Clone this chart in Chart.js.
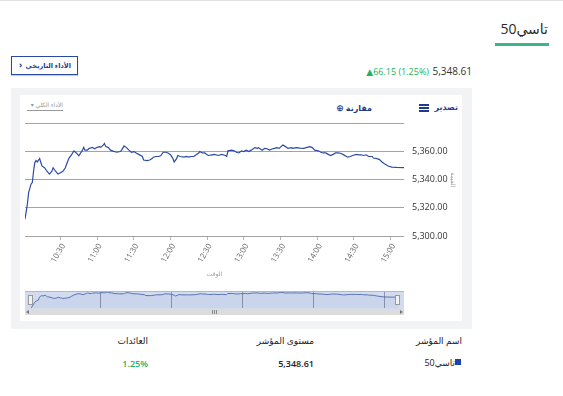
<!DOCTYPE html>
<html lang="ar">
<head>
<meta charset="utf-8">
<script src="https://cdn.jsdelivr.net/npm/chart.js@4.4.1/dist/chart.umd.min.js"></script>
<style>
  body { margin: 0; width: 563px; height: 396px; position: relative; background: #fff; overflow: hidden;
         font-family: "Open Sans", "DejaVu Sans", sans-serif; color: #333; }
  .abs { position: absolute; white-space: nowrap; }
  .rtl { direction: rtl; }
</style>
</head>
<body>
<script>
// minutes after 10:00 and index level
const times = [1, 3, 4, 6, 7, 8, 9, 10, 11, 13, 14, 15, 17, 19, 21, 23, 24, 26, 27, 28,
  30, 32, 34, 35, 37, 39, 41, 43, 45, 48, 49, 50, 52, 53, 56, 58, 60, 62, 63, 65,
  66, 67, 69, 71, 73, 76, 79, 80, 82, 84, 86, 88, 90, 92, 94, 97, 98, 101, 103, 105,
  106, 108, 110, 112, 114, 116, 118, 120, 122, 123, 125, 126, 128, 131, 133, 135, 137, 139, 141, 143,
  144, 146, 148, 150, 151, 154, 156, 159, 162, 165, 166, 167, 170, 172, 174, 176, 178, 180, 182, 184,
  186, 189, 191, 192, 195, 197, 199, 201, 203, 205, 207, 209, 211, 212, 214, 216, 219, 220, 223, 226,
  229, 231, 234, 236, 238, 241, 243, 245, 247, 249, 251, 253, 255, 257, 259, 261, 264, 265, 267, 269,
  272, 274, 276, 278, 280, 282, 285, 286, 289, 291, 293, 295, 298, 301, 305, 311];
const values = [5312, 5323, 5331, 5337, 5338, 5346, 5352, 5353.6, 5352.6, 5355, 5352, 5349.6, 5348.5, 5346, 5344, 5346, 5348.5, 5346, 5345, 5344,
  5345, 5346, 5348.5, 5351, 5355.4, 5357.7, 5360.5, 5359, 5357, 5361, 5363, 5361, 5361, 5362, 5363, 5362, 5363, 5363.5, 5363, 5364.6,
  5365.8, 5363.5, 5363, 5361, 5360.3, 5359.5, 5360, 5361, 5364, 5362.8, 5361, 5359.5, 5360, 5358.9, 5358, 5356.5, 5354, 5353.6, 5354, 5355,
  5356, 5356.5, 5356.5, 5357, 5359.5, 5359.5, 5359, 5357.7, 5355, 5352.6, 5355, 5357.2, 5356.5, 5356, 5356.5, 5356, 5356.5, 5356.5, 5357.7, 5359,
  5360, 5359, 5359, 5357.7, 5357.2, 5357.7, 5358, 5357.2, 5358, 5357.2, 5356.5, 5360.5, 5361, 5360.5, 5359.5, 5359, 5360.5, 5360, 5361, 5360,
  5361, 5362.8, 5362.3, 5362.8, 5361, 5362.3, 5362, 5361, 5361.8, 5362.3, 5362.8, 5362.3, 5364, 5364.6, 5363.5, 5362.3, 5362.8, 5362.3, 5362.8, 5362.5,
  5362.3, 5362.8, 5363.5, 5362.8, 5361, 5360.5, 5359.5, 5359, 5359, 5358, 5357.2, 5358, 5359, 5359, 5358.8, 5358, 5356.5, 5356, 5356.5, 5357.2,
  5358, 5357.7, 5357.7, 5357.2, 5357.7, 5356.5, 5356.5, 5355.4, 5355, 5354.3, 5352.6, 5351.3, 5349.7, 5349, 5348.7, 5348.61];

const xTickLabels = ['10:30', '11:00', '11:30', '12:00', '12:30', '13:00', '13:30', '14:00', '14:30', '15:00'];
const yTickValues = [5300, 5320, 5340, 5360, 5380];
const navTickLabels = ['11:00', '12:00', '13:00', '14:00', '15:00'];

const lastValue = '5,348.61';
const change = '66.15';
const changePct = '1.25%';
</script>

<!-- top strip -->
<div class="abs" style="left:0;top:0;width:563px;height:1px;background:#e2e2e2"></div>

<!-- title -->
<div class="abs rtl" style="right:15px;top:19px;font-size:14px;color:#2a2a2a">تاسي50</div>
<div class="abs" style="left:495px;top:43px;width:54px;height:3px;background:#3db58a"></div>

<!-- history button -->
<div class="abs" style="left:11px;top:56px;width:65px;height:17px;border:1px solid #2a4aa0;box-shadow:0 1px 1px #ccc"></div>
<div class="abs rtl" style="right:492px;top:57px;font-size:6.6px;font-weight:bold;color:#1f3a8c;line-height:17px">الأداء التاريخي</div>
<div class="abs" style="left:19px;top:57px;font-size:9px;font-weight:bold;color:#1f3a8c;line-height:16px">›</div>

<!-- price -->
<div class="abs" id="price" style="right:91px;top:64px;font-size:10px;color:#333"></div>
<div class="abs" id="chg" style="right:134px;top:65px;font-size:9px;color:#22b35c"></div>

<!-- panel -->
<div class="abs" style="left:11px;top:88px;width:461px;height:241px;background:#f2f3f5"></div>
<div class="abs" style="left:20px;top:95px;width:442px;height:226px;background:#fff"></div>

<!-- chart toolbar -->
<div class="abs rtl" style="right:105px;top:101px;font-size:8px;font-weight:bold;color:#1f3a8c">تصدير</div>
<div class="abs" style="left:419px;top:104px;width:10px;height:2px;background:#1f3a8c"></div>
<div class="abs" style="left:419px;top:107px;width:10px;height:2px;background:#1f3a8c"></div>
<div class="abs" style="left:419px;top:110px;width:10px;height:2px;background:#1f3a8c"></div>
<div class="abs rtl" style="right:191px;top:101px;font-size:8px;font-weight:bold;color:#1f3a8c">مقارنة <span style="font-size:9px">⊕</span></div>
<div class="abs rtl" style="left:27px;top:101px;width:36px;font-size:6px;color:#999;border-bottom:1px solid #999;padding-bottom:1px">الأداء الكلي ▾</div>

<!-- main chart -->
<canvas id="main" width="440" height="175" class="abs" style="left:20px;top:110px"></canvas>

<!-- navigator -->
<canvas id="nav" width="379" height="18" class="abs" style="left:25px;top:291px;background:#d3dcef"></canvas>
<div class="abs" style="left:25px;top:291px;width:379px;height:1px;background:#b8b8b8"></div>
<div class="abs" style="left:28px;top:295px;width:3px;height:8px;background:#f2f2f2;border:1px solid #999"></div>
<div class="abs" style="left:395px;top:295px;width:3px;height:8px;background:#f2f2f2;border:1px solid #999"></div>

<!-- scrollbar -->
<div class="abs" style="left:25px;top:309px;width:379px;height:6px;background:#dcdcdc"></div>
<div class="abs" style="left:26px;top:310px;width:0;height:0;border-top:2px solid transparent;border-bottom:2px solid transparent;border-right:3px solid #777"></div>
<div class="abs" style="left:400px;top:310px;width:0;height:0;border-top:2px solid transparent;border-bottom:2px solid transparent;border-left:3px solid #777"></div>
<div class="abs" style="left:212px;top:310px;width:1px;height:4px;background:#888;box-shadow:2px 0 0 #888,4px 0 0 #888"></div>

<!-- table -->
<div class="abs rtl" style="right:101px;top:334px;font-size:9px;color:#222">اسم المؤشر</div>
<div class="abs rtl" style="right:249px;top:334px;font-size:9px;color:#222">مستوى المؤشر</div>
<div class="abs rtl" style="right:415px;top:334px;font-size:9px;color:#222">العائدات</div>
<div class="abs" style="left:455px;top:359px;width:6px;height:6px;background:#1f3fb5"></div>
<div class="abs rtl" style="right:108px;top:356px;font-size:9px;color:#222">تاسي50</div>
<div class="abs" id="rowLevel" style="right:249px;top:357px;font-size:9px;font-weight:600;color:#222"></div>
<div class="abs" id="rowPct" style="right:415px;top:357px;font-size:9px;font-weight:600;color:#22b35c"></div>

<script>
document.getElementById('price').textContent = lastValue;
document.getElementById('chg').textContent = '▲' + change + ' (' + changePct + ')';
document.getElementById('rowLevel').textContent = lastValue;
document.getElementById('rowPct').textContent = changePct;

const toMin = l => (parseInt(l.split(':')[0]) - 10) * 60 + parseInt(l.split(':')[1]);
const points = times.map((t, i) => ({ x: t, y: values[i] }));
const tMin = times[0];
const tMax = times[times.length - 1];

Chart.defaults.font.family = '"Open Sans", "DejaVu Sans", sans-serif';

// grafico principal
new Chart(document.getElementById('main'), {
  type: 'line',
  data: {
    datasets: [{
      data: points,
      borderColor: '#2b4ca3',
      borderWidth: 1.2,
      pointRadius: 0,
      tension: 0,
      fill: false
    }]
  },
  options: {
    responsive: false,
    animation: false,
    layout: { padding: { top: 8, left: 5, right: 0, bottom: 3 } },
    plugins: { legend: { display: false }, tooltip: { enabled: false } },
    scales: {
      x: {
        type: 'linear',
        min: tMin,
        max: tMax,
        afterBuildTicks: s => { s.ticks = xTickLabels.map(l => ({ value: toMin(l) })); },
        afterFit: s => { s.height = 46; },
        grid: { drawOnChartArea: false, drawTicks: true, tickLength: 4, color: '#b5b5b5' },
        border: { display: false },
        ticks: {
          autoSkip: false, minRotation: 60, maxRotation: 60, padding: 2, labelOffset: 3,
          color: '#666', font: { size: 8 },
          callback: (v, i) => xTickLabels[i]
        },
        title: { display: true, text: 'الوقت', color: '#999', font: { size: 6 }, padding: { top: 0, bottom: 4 } }
      },
      y: {
        position: 'right',
        min: yTickValues[0],
        max: yTickValues[yTickValues.length - 1],
        afterBuildTicks: s => { s.ticks = yTickValues.map(v => ({ value: v })); },
        afterFit: s => { s.width = 56; },
        grid: { color: '#a3a3a3', drawTicks: false },
        border: { display: false },
        ticks: {
          padding: 8, color: '#333', font: { size: 9 },
          callback: v => v === yTickValues[yTickValues.length - 1] ? '' :
            v.toLocaleString('en-US', { minimumFractionDigits: 2, maximumFractionDigits: 2 })
        },
        title: { display: true, text: 'القيمة', color: '#999', font: { size: 6 }, padding: { top: 4, bottom: 0 } }
      }
    }
  }
});

// navegador
new Chart(document.getElementById('nav'), {
  type: 'line',
  data: {
    datasets: [{
      data: points,
      borderColor: '#5874b4',
      borderWidth: 1,
      pointRadius: 0,
      tension: 0,
      fill: true,
      backgroundColor: 'rgba(51,92,173,0.06)'
    }]
  },
  options: {
    responsive: false,
    animation: false,
    layout: { padding: { top: 1, left: 6, right: 6, bottom: 1 } },
    plugins: { legend: { display: false }, tooltip: { enabled: false } },
    scales: {
      x: {
        type: 'linear',
        min: tMin,
        max: tMax,
        afterBuildTicks: s => { s.ticks = navTickLabels.map(l => ({ value: toMin(l) })); },
        afterFit: s => { s.height = 0; },
        grid: { color: '#8a93a8', drawTicks: false },
        border: { display: false },
        ticks: {
          autoSkip: false, maxRotation: 0, align: 'start', padding: -9, labelOffset: 2,
          color: '#666', font: { size: 8 },
          callback: (v, i) => navTickLabels[i]
        }
      },
      y: { display: false, min: Math.min(...values), max: Math.max(...values) }
    }
  }
});
</script>
</body>
</html>
